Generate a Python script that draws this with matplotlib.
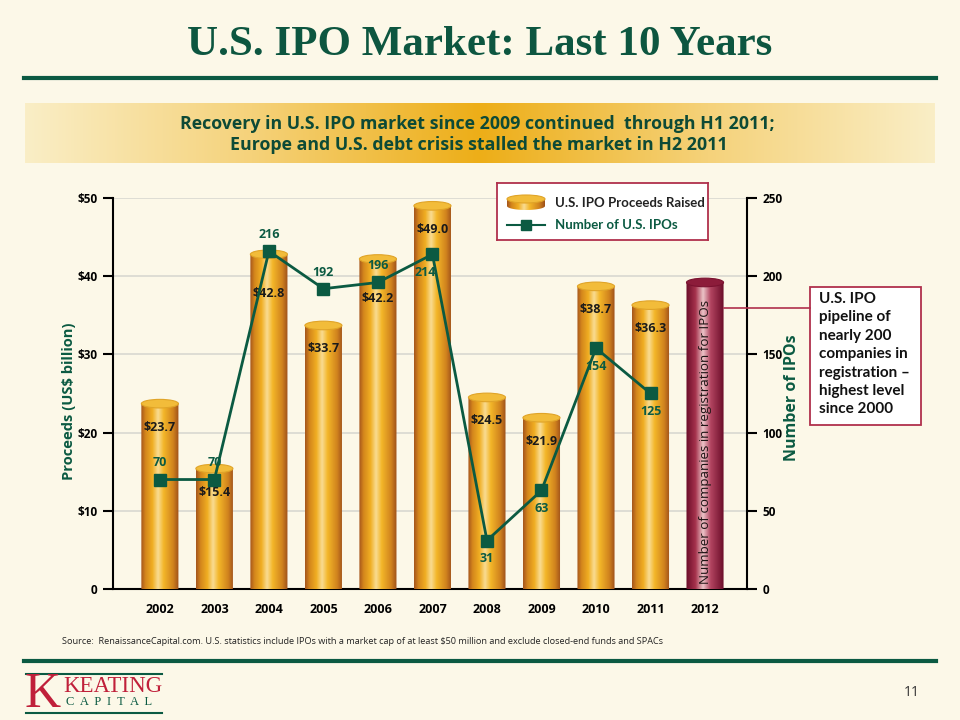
import numpy as np
import matplotlib
matplotlib.use("Agg")
import matplotlib.pyplot as plt
from matplotlib.colors import LinearSegmentedColormap
from matplotlib.patches import Polygon, Ellipse, Rectangle
from matplotlib.lines import Line2D

# data
years = ["2002", "2003", "2004", "2005", "2006", "2007", "2008", "2009", "2010", "2011", "2012"]
proceeds = [23.7, 15.4, 42.8, 33.7, 42.2, 49.0, 24.5, 21.9, 38.7, 36.3]
ipo_count = [70, 70, 216, 192, 196, 214, 31, 63, 154, 125]
pipeline = 196  # companies in registration, 2012 bar (right axis)
left_ticks = [0, 10, 20, 30, 40, 50]
left_ticklabels = ["0", "$10", "$20", "$30", "$40", "$50"]
right_ticks = [0, 50, 100, 150, 200, 250]

GREEN = "#0B5A42"
BG = "#FCF8E8"
MAROON = "#B0304C"

plt.rcParams["font.family"] = ["Open Sans", "DejaVu Sans"]

gold = LinearSegmentedColormap.from_list("gold", [
    (0, "#A4541C"), (0.12, "#D4861C"), (0.3, "#F0AE22"), (0.45, "#F9DC92"),
    (0.6, "#F3B628"), (0.85, "#D0821E"), (1, "#9C4E1A")])
wine = LinearSegmentedColormap.from_list("wine", [
    (0, "#6A0C28"), (0.25, "#A5324C"), (0.45, "#EBC4C8"),
    (0.65, "#B24460"), (1, "#6A0C28")])


def fx(px):
    return px / 960


def fy(py):
    return 1 - py / 720


def cylinder(ax, xc, top, w, ry, cmap, cap, capedge, base=0.0, z=3):
    t = np.linspace(np.pi, 2 * np.pi, 40)
    verts = [(xc - w / 2, top)] + list(zip(xc + w / 2 * np.cos(t), base + ry * np.sin(t))) + [(xc + w / 2, top)]
    clip = Polygon(verts, closed=True, transform=ax.transData)
    grad = np.linspace(0, 1, 256)[None, :]
    im = ax.imshow(grad, cmap=cmap, extent=(xc - w / 2, xc + w / 2, base - ry, top),
                   aspect="auto", origin="lower", zorder=z, interpolation="bilinear")
    im.set_clip_path(clip)
    im.set_clip_box(None)
    ax.add_patch(Ellipse((xc, top), w, 2 * ry, facecolor=cap, edgecolor=capedge,
                         lw=0.8, zorder=z + 0.1, clip_on=False))


fig = plt.figure(figsize=(9.6, 7.2), dpi=100, facecolor=BG)

# title + rules
fig.text(0.5, fy(45), "U.S. IPO Market: Last 10 Years", ha="center", va="center",
         family="Liberation Serif", weight="bold", size=31, color="#0D5640")
fig.add_artist(Line2D([fx(24), fx(936)], [fy(78), fy(78)], color=GREEN, lw=3))
fig.add_artist(Line2D([fx(24), fx(936)], [fy(661), fy(661)], color=GREEN, lw=3))

# gold banner
bax = fig.add_axes([fx(25), fy(163), fx(935) - fx(25), fy(103) - fy(163)])
tt = np.linspace(0, 1, 512)
bcm = LinearSegmentedColormap.from_list("band", ["#FAEEC6", "#F5D27A", "#EDAE18"])
bax.imshow((1 - np.abs(2 * tt - 1))[None, :], cmap=bcm, aspect="auto", interpolation="bilinear")
bax.axis("off")
fig.text(fx(477), fy(124), "Recovery in U.S. IPO market since 2009 continued  through H1 2011;",
         ha="center", va="center", size=12.8, weight="bold", color="#0D4A36")
fig.text(fx(479), fy(145), "Europe and U.S. debt crisis stalled the market in H2 2011",
         ha="center", va="center", size=12.8, weight="bold", color="#0D4A36")

# main chart
ax = fig.add_axes([fx(113), fy(589), fx(747) - fx(113), fy(198) - fy(589)])
ax.set_facecolor("none")
ax2 = ax.twinx()
xs = np.arange(len(years))

for i, v in enumerate(proceeds):
    cylinder(ax, xs[i], v, 0.68, 0.55, gold, "#F2BC3A", "#E0A428")
    drop = 5.0 if i in (2, 4) else 3.0  # push label clear of the line markers
    ax.text(xs[i], v - drop, f"${v:.1f}", ha="center", va="center", size=9,
            weight="bold", color="#1A1A1A", zorder=6)

cylinder(ax2, xs[10], pipeline, 0.68, 2.75, wine, "#8C1C3A", "#7A1230")
ax2.text(xs[10], pipeline * 0.48, "Number of companies in registration for IPOs",
         rotation=90, ha="center", va="center", size=9.6, color="#1E1414", zorder=6)

ax2.plot(xs[:10], ipo_count, color=GREEN, lw=2, marker="s", ms=8, zorder=5)
for i, n in enumerate(ipo_count):
    dy = 12 if i < 5 else -13
    dx = -5 if i == 5 else 0
    ax2.annotate(str(n), (xs[i], n), xytext=(dx, dy), textcoords="offset points",
                 ha="center", va="center", size=9, weight="bold", color=GREEN, zorder=6)

ax.set_xlim(-0.86, 10.77)
ax.set_ylim(0, 50)
ax2.set_ylim(0, 250)
ax.set_axisbelow(True)
ax.grid(axis="y", color="#D9D8D0", lw=1.2)
ax.set_yticks(left_ticks)
ax.set_yticklabels(left_ticklabels)
ax2.set_yticks(right_ticks)
ax.set_xticks(xs)
ax.set_xticklabels(years)
ax.tick_params(axis="x", length=0, pad=10, labelsize=9)
ax.tick_params(axis="y", length=7, width=1.5, labelsize=8.5, pad=4)
ax2.tick_params(axis="y", length=7, width=1.5, labelsize=8.5, pad=4)
for lab in ax.get_xticklabels() + ax.get_yticklabels() + ax2.get_yticklabels():
    lab.set_fontweight("bold")
for s in ["top", "right"]:
    ax.spines[s].set_visible(False)
for s in ["top", "left", "bottom"]:
    ax2.spines[s].set_visible(False)
ax.spines["left"].set_linewidth(1.5)
ax.spines["bottom"].set_linewidth(1.5)
ax2.spines["right"].set_linewidth(1.5)

fig.text(fx(69), fy(401), "Proceeds (US$ billion)", rotation=90, ha="center", va="center",
         size=10.6, weight="bold", color=GREEN)
fig.text(fx(792), fy(398), "Number of IPOs", rotation=90, ha="center", va="center",
         size=11.5, weight="bold", color=GREEN)

# legend box
lax = fig.add_axes([fx(497), fy(240), fx(708) - fx(497), fy(183) - fy(240)])
lax.set_xlim(0, 211)
lax.set_ylim(0, 57)
lax.set_xticks([])
lax.set_yticks([])
lax.set_facecolor("white")
for s in lax.spines.values():
    s.set_color(MAROON)
    s.set_linewidth(1.3)
cylinder(lax, 29, 41, 38, 4, gold, "#F2BC3A", "#E0A428", base=34)
lax.text(58, 37, "U.S. IPO Proceeds Raised", va="center", size=9.5, weight="bold",
         color="#222222", family=["Lato", "DejaVu Sans"])
lax.plot([10, 48], [15, 15], color=GREEN, lw=1.5)
lax.plot([29], [15], marker="s", ms=7, color=GREEN)
lax.text(58, 15, "Number of U.S. IPOs", va="center", size=9.5, weight="bold",
         color=GREEN, family=["Lato", "DejaVu Sans"])

# pipeline callout
fig.add_artist(Line2D([fx(724), fx(810)], [fy(308), fy(308)], color=MAROON, lw=1.2))
fig.add_artist(Rectangle((fx(810), fy(425)), fx(921) - fx(810), fy(287) - fy(425),
                         transform=fig.transFigure, facecolor="white", edgecolor=MAROON, lw=1.3))
fig.text(fx(819), fy(292), "U.S. IPO\npipeline of\nnearly 200\ncompanies in\nregistration –\nhighest level\nsince 2000",
         ha="left", va="top", size=11, weight="bold", color="#111111", linespacing=1.4,
         family=["Lato", "DejaVu Sans"])

# footer
fig.text(fx(62), fy(641), "Source:  RenaissanceCapital.com. U.S. statistics include IPOs with a market cap "
         "of at least $50 million and exclude closed-end funds and SPACs",
         ha="left", va="center", size=6.6, family=["Liberation Sans Narrow", "Open Sans"], color="#222222")
fig.add_artist(Line2D([fx(26), fx(162)], [fy(674), fy(674)], color=GREEN, lw=1.5))
fig.add_artist(Line2D([fx(26), fx(162)], [fy(713), fy(713)], color=GREEN, lw=1.5))
fig.text(fx(24), fy(695), "K", ha="left", va="center", family="Liberation Serif",
         size=36, color="#C0203A")
fig.text(fx(63), fy(686), "KEATING", ha="left", va="center", family="Liberation Serif",
         size=16.5, color="#C0203A")
fig.text(fx(66), fy(702), "C  A  P  I  T  A  L", ha="left", va="center", family="Liberation Serif",
         size=9, color=GREEN)
fig.text(fx(912), fy(692), "11", ha="center", va="center", size=10, color="#333333")

fig.savefig("out.png", dpi=100, facecolor=BG)
